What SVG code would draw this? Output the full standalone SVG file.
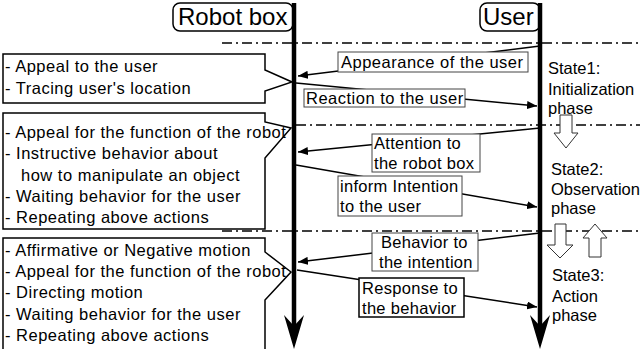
<svg xmlns="http://www.w3.org/2000/svg" width="642" height="349" viewBox="0 0 642 349">
<defs>
<marker id="ah" viewBox="0 0 10 8" refX="10" refY="4" markerWidth="10" markerHeight="8" markerUnits="userSpaceOnUse" orient="auto">
<path d="M0,0 L10,4 L0,8 Z" fill="#000"/>
</marker>
</defs>
<style>
text{font-family:"Liberation Sans",Arial,sans-serif;fill:#000}
.t{font-size:16.5px}
.c{letter-spacing:0.5px}
.l{letter-spacing:0.3px}
.big{font-size:24px}
.callout{fill:#fff;stroke:#000;stroke-width:1.5}
.lbl{fill:#fff;stroke:#444;stroke-width:1}
.dd{stroke:#000;stroke-width:1.5;stroke-dasharray:10 4 2 4;fill:none}
.life{stroke:#000;stroke-width:4.5}
.msg{stroke:#000;stroke-width:1.5;fill:none;marker-end:url(#ah)}
.hollow{fill:#fff;stroke:#333;stroke-width:1}
</style>
<rect width="642" height="349" fill="#fff"/>
<g id="phase-lines">
<line class="dd" x1="222" y1="43" x2="640" y2="43"/>
<line class="dd" x1="296" y1="125" x2="640" y2="125"/>
<line class="dd" x1="222" y1="231" x2="640" y2="231"/>
</g>
<g id="robot-box">
<rect x="173" y="3" width="120" height="28" rx="7" fill="#fff" stroke="#000" stroke-width="1.5"/>
<text class="big" x="178" y="25">Robot box</text>
<line class="life" x1="294" y1="3" x2="294" y2="330"/>
<path d="M284,315 L294,349 L304,315 L294,326 Z" fill="#000"/>
</g>
<g id="user">
<rect x="480" y="3" width="60" height="28" rx="7" fill="#fff" stroke="#000" stroke-width="1.5"/>
<text class="big" x="483" y="25">User</text>
<line class="life" x1="540" y1="3" x2="540" y2="330"/>
<path d="M530,315 L540,349 L550,315 L540,326 Z" fill="#000"/>
</g>
<g id="connectors">
<line class="msg" x1="540" y1="46" x2="298" y2="76"/>
<line class="msg" x1="296" y1="83" x2="537" y2="106"/>
<line class="msg" x1="540" y1="128" x2="298" y2="152"/>
<line class="msg" x1="296" y1="165" x2="537" y2="207"/>
<line class="msg" x1="540" y1="233" x2="298" y2="262"/>
<line class="msg" x1="297" y1="270" x2="537" y2="307"/>
</g>
<g id="callout1">
<path class="callout" d="M3,54 H265 V70 L292,82 L265,91 V103 H3 Z"/>
<text class="t c" x="5" y="72">- Appeal to the user</text>
<text class="t c" x="5" y="94">- Tracing user's location</text>
</g>
<g id="callout2">
<path class="callout" d="M3,113 H265 V122 L291,128 L265,158 V229 H3 Z"/>
<text class="t c" x="5" y="138">- Appeal for the function of the robot</text>
<text class="t c" x="5" y="159">- Instructive behavior about</text>
<text class="t c" x="21" y="181">how to manipulate an object</text>
<text class="t c" x="5" y="202">- Waiting behavior for the user</text>
<text class="t c" x="5" y="223">- Repeating above actions</text>
</g>
<g id="callout3">
<path class="callout" d="M3,238 H265 V252 L291,272 L265,300 V352 H3 Z"/>
<text class="t c" x="5" y="256">- Affirmative or Negative motion</text>
<text class="t c" x="5" y="277">- Appeal for the function of the robot</text>
<text class="t c" x="5" y="298">- Directing motion</text>
<text class="t c" x="5" y="320">- Waiting behavior for the user</text>
<text class="t c" x="5" y="341">- Repeating above actions</text>
</g>
<g id="label-appearance">
<rect class="lbl" x="338" y="52" width="190" height="20"/>
<text class="t c" x="341" y="68">Appearance of the user</text>
</g>
<g id="label-reaction">
<rect class="lbl" x="304" y="89" width="161" height="18"/>
<text class="t c" x="306" y="104">Reaction to the user</text>
</g>
<g id="label-attention">
<rect class="lbl" x="372" y="134" width="108" height="38"/>
<text class="t l" x="374" y="149">Attention to</text>
<text class="t l" x="374" y="169">the robot box</text>
</g>
<g id="label-inform">
<rect class="lbl" x="338" y="176" width="124" height="40"/>
<text class="t l" x="340" y="192">inform Intention</text>
<text class="t l" x="340" y="212">to the user</text>
</g>
<g id="label-behavior">
<rect class="lbl" x="372" y="233" width="106" height="38"/>
<text class="t l" x="381" y="248">Behavior to</text>
<text class="t l" x="379" y="268">the intention</text>
</g>
<g id="label-response">
<rect x="359" y="278" width="105" height="39" fill="#fff" stroke="#000" stroke-width="1.5"/>
<text class="t l" x="362" y="294">Response to</text>
<text class="t l" x="362" y="314">the behavior</text>
</g>
<g id="states">
<text class="t" x="548" y="74">State1:</text>
<text class="t" x="548" y="95">Initialization</text>
<text class="t" x="548" y="114">phase</text>
<text class="t" x="551" y="175">State2:</text>
<text class="t" x="551" y="195">Observation</text>
<text class="t" x="551" y="214">phase</text>
<text class="t" x="552" y="281">State3:</text>
<text class="t" x="552" y="302">Action</text>
<text class="t" x="552" y="321">phase</text>
</g>
<g id="transition-arrows">
<path class="hollow" d="M560,115 H572 V133 H578 L566,148 L554,133 H560 Z"/>
<path class="hollow" d="M555,224 H566 V245 H573 L560,258 L547,245 H555 Z"/>
<path class="hollow" d="M595,224 L607,238 H601 V257 H589 V238 H583 Z"/>
</g>
</svg>
